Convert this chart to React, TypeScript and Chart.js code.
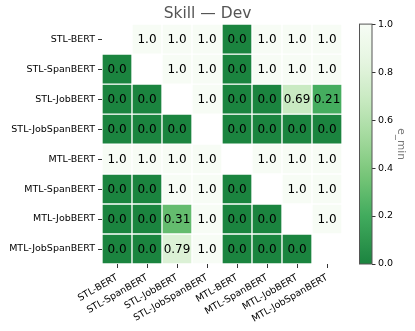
import React, { useEffect, useRef } from 'react';
import { Chart, registerables } from 'chart.js';

Chart.register(...registerables);

const rowLabels = ['STL-BERT', 'STL-SpanBERT', 'STL-JobBERT', 'STL-JobSpanBERT', 'MTL-BERT', 'MTL-SpanBERT', 'MTL-JobBERT', 'MTL-JobSpanBERT'];
const colLabels = ['STL-BERT', 'STL-SpanBERT', 'STL-JobBERT', 'STL-JobSpanBERT', 'MTL-BERT', 'MTL-SpanBERT', 'MTL-JobBERT', 'MTL-JobSpanBERT'];

const rowSTLBERT = [null, 1, 1, 1, 0, 1, 1, 1];
const rowSTLSpanBERT = [0, null, 1, 1, 0, 1, 1, 1];
const rowSTLJobBERT = [0, 0, null, 1, 0, 0, 0.69, 0.21];
const rowSTLJobSpanBERT = [0, 0, 0, null, 0, 0, 0, 0];
const rowMTLBERT = [1, 1, 1, 1, null, 1, 1, 1];
const rowMTLSpanBERT = [0, 0, 1, 1, 0, null, 1, 1];
const rowMTLJobBERT = [0, 0, 0.31, 1, 0, 0, null, 1];
const rowMTLJobSpanBERT = [0, 0, 0.79, 1, 0, 0, 0, null];

const matrix: (number | null)[][] = [
  rowSTLBERT, rowSTLSpanBERT, rowSTLJobBERT, rowSTLJobSpanBERT,
  rowMTLBERT, rowMTLSpanBERT, rowMTLJobBERT, rowMTLJobSpanBERT,
];

const cbarTicks = [0, 0.2, 0.4, 0.6, 0.8, 1.0];
const titleText = 'Skill — Dev';
const cbarLabel = 'e_min';

// Greens colormap stops
const greens = [
  [0.0, [247, 252, 245]],
  [0.125, [229, 245, 224]],
  [0.25, [199, 233, 192]],
  [0.375, [161, 217, 155]],
  [0.5, [116, 196, 118]],
  [0.625, [65, 171, 93]],
  [0.75, [35, 139, 69]],
  [0.875, [0, 109, 44]],
  [1.0, [0, 68, 27]],
] as [number, number[]][];

function cellColor(v: number): string {
  const p = 0.78 * (1 - v);
  for (let k = 0; k < greens.length - 1; k++) {
    const [p0, c0] = greens[k];
    const [p1, c1] = greens[k + 1];
    if (p >= p0 && p <= p1) {
      const t = (p - p0) / (p1 - p0);
      const c = c0.map((a, idx) => Math.round(a + (c1[idx] - a) * t));
      return `rgb(${c[0]},${c[1]},${c[2]})`;
    }
  }
  const c = greens[greens.length - 1][1];
  return `rgb(${c[0]},${c[1]},${c[2]})`;
}

function fmt(v: number): string {
  return Number.isInteger(v) ? v.toFixed(1) : String(v);
}

const CB_GAP = 17.5;
const CB_W = 12.5;

const layoutPlugin = {
  id: 'cbarShift',
  afterLayout(chart: any) {
    const s = chart.scales.cbar;
    if (s) {
      s.left = chart.chartArea.right + CB_GAP + CB_W;
      s._gridLineItems = null;
      s._labelItems = null;
    }
  },
};

const cellLabelPlugin = {
  id: 'cellLabels',
  afterDatasetsDraw(chart: any) {
    const ctx = chart.ctx;
    ctx.save();
    ctx.font = '12px "DejaVu Sans"';
    ctx.fillStyle = '#000';
    ctx.textAlign = 'center';
    ctx.textBaseline = 'middle';
    matrix.forEach((row, i) => {
      const meta = chart.getDatasetMeta(i);
      row.forEach((v, j) => {
        if (v === null) return;
        const el = meta.data[j];
        if (!el) return;
        const cp = el.getCenterPoint();
        ctx.fillText(fmt(v), cp.x, cp.y + 0.5);
      });
    });
    ctx.restore();
  },
};

const colorbarPlugin = {
  id: 'colorbar',
  afterDraw(chart: any) {
    const ctx = chart.ctx;
    const s = chart.scales.cbar;
    const x0 = chart.chartArea.right + CB_GAP;
    const top = s.getPixelForValue(1);
    const bottom = s.getPixelForValue(0);
    const g = ctx.createLinearGradient(0, bottom, 0, top);
    for (let k = 0; k <= 20; k++) {
      const v = k / 20;
      g.addColorStop(v, cellColor(v));
    }
    ctx.save();
    ctx.fillStyle = g;
    ctx.fillRect(x0, top, CB_W, bottom - top);
    ctx.strokeStyle = '#555';
    ctx.lineWidth = 1;
    ctx.strokeRect(x0, top, CB_W, bottom - top);
    ctx.restore();
  },
};

export default function App() {
  const ref = useRef<HTMLCanvasElement | null>(null);

  useEffect(() => {
    document.body.style.margin = '0';
    document.body.style.overflow = 'hidden';
    Chart.defaults.font.family = '"DejaVu Sans", sans-serif';
    const canvas = ref.current;
    if (!canvas) return;

    const datasets = matrix.map((row, i) => ({
      label: rowLabels[i],
      data: row.map((v) => (v === null ? null : [i, i + 1])),
      backgroundColor: row.map((v) => (v === null ? 'rgba(0,0,0,0)' : cellColor(v))),
      borderColor: row.map((v) => (v === null ? 'rgba(0,0,0,0)' : '#ffffff')),
      borderWidth: 1,
      borderSkipped: false,
      barPercentage: 1,
      categoryPercentage: 1,
      grouped: false,
    }));

    const chart = new Chart(canvas, {
      type: 'bar',
      data: { labels: colLabels, datasets: datasets as any },
      options: {
        animation: false,
        responsive: true,
        maintainAspectRatio: false,
        events: [],
        layout: { padding: 0 },
        plugins: {
          legend: { display: false },
          tooltip: { enabled: false },
          title: {
            display: true,
            text: titleText,
            color: '#555',
            font: { size: 15.5, weight: 'normal' },
            padding: { top: 4.5, bottom: 1 },
          },
        },
        scales: {
          x: {
            type: 'category',
            offset: true,
            ticks: { maxRotation: 30, minRotation: 30, autoSkip: false, color: '#000', font: { size: 9.5 }, padding: 4 },
            grid: { offset: false, drawOnChartArea: false, tickLength: 4, tickColor: '#000', tickWidth: 0.8 },
            border: { display: false },
            afterFit: (s: any) => { s.height = 67; },
          },
          y: {
            type: 'linear',
            min: 0,
            max: 8,
            reverse: true,
            afterBuildTicks: (s: any) => { s.ticks = rowLabels.map((_, i) => ({ value: i + 0.5 })); },
            ticks: { autoSkip: false, color: '#000', font: { size: 9.5 }, padding: 3, callback: (_v: any, i: number) => rowLabels[i] },
            grid: { drawOnChartArea: false, tickLength: 4, tickColor: '#000', tickWidth: 0.8 },
            border: { display: false },
            afterFit: (s: any) => { s.width = 102; },
          },
          cbar: {
            type: 'linear',
            position: 'right',
            min: 0,
            max: 1,
            afterBuildTicks: (s: any) => { s.ticks = cbarTicks.map((v) => ({ value: v })); },
            ticks: { autoSkip: false, color: '#000', font: { size: 9.5 }, padding: 2.5, callback: (v: any) => Number(v).toFixed(1) },
            grid: { drawOnChartArea: false, tickLength: 3.5, tickColor: '#000', tickWidth: 0.8 },
            border: { display: false },
            title: { display: true, text: cbarLabel, color: '#777', font: { size: 10.5 }, padding: { top: 8, bottom: 0 } },
            afterFit: (s: any) => { s.width = 73; },
          },
        } as any,
      },
      plugins: [layoutPlugin, cellLabelPlugin, colorbarPlugin],
    });

    return () => chart.destroy();
  }, []);

  return (
    <div style={{ width: 415, height: 331, position: 'relative' }}>
      <canvas ref={ref} />
    </div>
  );
}
